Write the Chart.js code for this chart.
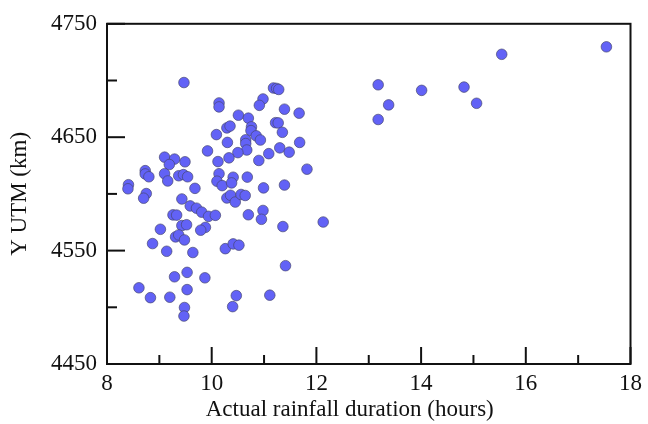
<!DOCTYPE html>
<html>
<head>
<meta charset="utf-8">
<script src="https://cdn.jsdelivr.net/npm/chart.js@4/dist/chart.umd.min.js"></script>
<style>
  html, body { margin: 0; padding: 0; background: #fff; }
  #wrap { width: 648px; height: 424px; }
</style>
</head>
<body>
<div id="wrap"><canvas id="c" width="648" height="424"></canvas></div>
<script>
// Actual rainfall duration (hours)
const durationHours = [
  9.47, 10.14, 10.14, 11.18, 11.24, 11.28, 10.98, 10.91, 11.39, 11.67,
  10.51, 10.70, 11.22, 11.27, 10.29, 10.35, 10.76, 10.75, 11.35, 10.09,
  10.85, 10.93, 10.65, 10.65, 10.30, 11.68, 10.67, 10.50, 11.30, 11.48,
  9.92, 11.09, 10.33, 10.12, 10.90, 9.10, 9.29, 9.49, 9.19, 11.82,
  8.73, 8.73, 8.80, 9.10, 9.16, 9.37, 9.46, 9.54, 10.14, 10.41,
  10.68, 10.10, 10.20, 10.38, 8.41, 8.40, 9.68, 10.99, 11.39, 8.75,
  8.70, 9.43, 10.29, 10.36, 10.45, 10.56, 10.64, 9.59, 9.71, 9.81,
  9.94, 10.07, 9.26, 9.33, 10.70, 10.98, 10.95, 9.02, 9.43, 9.52,
  9.88, 9.79, 9.31, 9.37, 9.48, 12.13, 11.36, 8.87, 9.14, 9.64,
  10.26, 10.41, 10.52, 11.41, 9.53, 9.29, 9.87, 8.61, 9.53, 8.83,
  9.20, 10.47, 11.11, 9.48, 10.40, 9.47, 13.18, 13.38, 13.18, 14.01,
  14.82, 15.06, 15.54, 17.54
];
// Y UTM (km)
const yUtmKm = [
  4698.2, 4680.2, 4676.7, 4693.4, 4693.0, 4692.1, 4683.7, 4678.1, 4674.7, 4671.2,
  4669.4, 4666.8, 4662.8, 4662.6, 4658.2, 4659.8, 4659.1, 4655.8, 4654.3, 4652.3,
  4651.2, 4647.5, 4647.7, 4644.4, 4645.4, 4645.4, 4638.7, 4636.4, 4640.6, 4636.8,
  4637.9, 4635.5, 4631.8, 4628.5, 4629.5, 4632.4, 4630.7, 4628.3, 4625.9, 4621.8,
  4620.5, 4617.6, 4615.1, 4617.8, 4611.4, 4616.0, 4617.0, 4615.1, 4617.8, 4614.7,
  4614.8, 4611.2, 4607.3, 4609.7, 4608.1, 4604.5, 4604.9, 4605.3, 4607.8, 4600.3,
  4596.2, 4595.5, 4596.4, 4598.8, 4592.8, 4599.5, 4598.6, 4589.4, 4587.4, 4583.9,
  4580.2, 4581.1, 4581.5, 4581.3, 4581.6, 4585.4, 4577.6, 4568.8, 4572.1, 4572.8,
  4570.5, 4568.0, 4562.1, 4563.8, 4559.4, 4575.2, 4571.2, 4556.2, 4549.4, 4548.3,
  4551.7, 4555.9, 4554.8, 4536.7, 4530.8, 4526.9, 4526.0, 4517.2, 4515.6, 4508.5,
  4508.9, 4510.3, 4510.7, 4499.8, 4500.6, 4492.3, 4696.2, 4678.5, 4665.6, 4691.3,
  4694.2, 4679.9, 4723.1, 4729.7
];
const xTickLabels = [8, 10, 12, 14, 16, 18];
const yTickLabels = [4450, 4550, 4650, 4750];
const xTitle = 'Actual rainfall duration (hours)';
const yTitle = 'Y UTM (km)';

const points = durationHours.map((d, i) => ({ x: d, y: yUtmKm[i] }));
const FONT = '"Liberation Serif", "Times New Roman", serif';

const frameTicks = {
  id: 'frameTicks',
  beforeDatasetsDraw(chart) {
    const ctx = chart.ctx;
    const a = chart.chartArea;
    const xs = chart.scales.x, ys = chart.scales.y;
    ctx.save();
    ctx.strokeStyle = '#111';
    ctx.lineCap = 'butt';
    ctx.lineWidth = 2;
    xs.ticks.forEach(t => {
      const px = xs.getPixelForValue(t.value);
      const major = xTickLabels.includes(t.value);
      const len = major ? 17 : 9;
      ctx.beginPath();
      ctx.moveTo(px, a.bottom);
      ctx.lineTo(px, a.bottom - len);
      ctx.stroke();
    });
    ys.ticks.forEach(t => {
      const py = ys.getPixelForValue(t.value);
      const major = yTickLabels.includes(t.value);
      const len = major ? 18 : 10;
      ctx.beginPath();
      ctx.moveTo(a.left, py);
      ctx.lineTo(a.left + len, py);
      ctx.stroke();
    });
    ctx.strokeRect(a.left, a.top, a.right - a.left, a.bottom - a.top);
    ctx.restore();
  },
  afterDraw(chart) {
    const ctx = chart.ctx;
    const a = chart.chartArea;
    ctx.save();
    ctx.fillStyle = '#111';
    ctx.font = '23px ' + FONT;
    ctx.textAlign = 'center';
    ctx.textBaseline = 'middle';
    ctx.fillText(xTitle, (a.left + a.right) / 2 - 19, 410);
    ctx.restore();
  }
};

new Chart(document.getElementById('c'), {
  type: 'scatter',
  data: {
    datasets: [{
      data: points,
      pointRadius: 5.3,
      pointBackgroundColor: 'rgb(98, 98, 246)',
      pointBorderColor: 'rgba(70, 70, 110, 0.85)',
      pointBorderWidth: 0.8,
      pointHoverRadius: 5.3
    }]
  },
  options: {
    responsive: false,
    animation: false,
    events: [],
    layout: { padding: { left: 0, right: 12, top: 20, bottom: 0 } },
    plugins: { legend: { display: false }, tooltip: { enabled: false } },
    scales: {
      x: {
        type: 'linear',
        min: 8, max: 18,
        afterFit: s => { s.height = 60; },
        grid: { display: false, drawTicks: false },
        border: { display: false },
        ticks: {
          stepSize: 1, autoSkip: false, maxRotation: 0, padding: 6,
          color: '#111', font: { family: FONT, size: 23 },
          callback: v => xTickLabels.includes(v) ? String(v) : ''
        },
        title: { display: false }
      },
      y: {
        type: 'linear',
        min: 4450, max: 4750,
        afterFit: s => { s.width = 107; },
        grid: { display: false, drawTicks: false },
        border: { display: false },
        ticks: {
          stepSize: 50, autoSkip: false, padding: 10,
          color: '#111', font: { family: FONT, size: 23 },
          callback: v => yTickLabels.includes(v) ? String(v) : ''
        },
        title: {
          display: true, text: yTitle,
          color: '#111', font: { family: FONT, size: 23 },
          padding: { top: 6, bottom: 0 }
        }
      }
    }
  },
  plugins: [frameTicks]
});
</script>
</body>
</html>
